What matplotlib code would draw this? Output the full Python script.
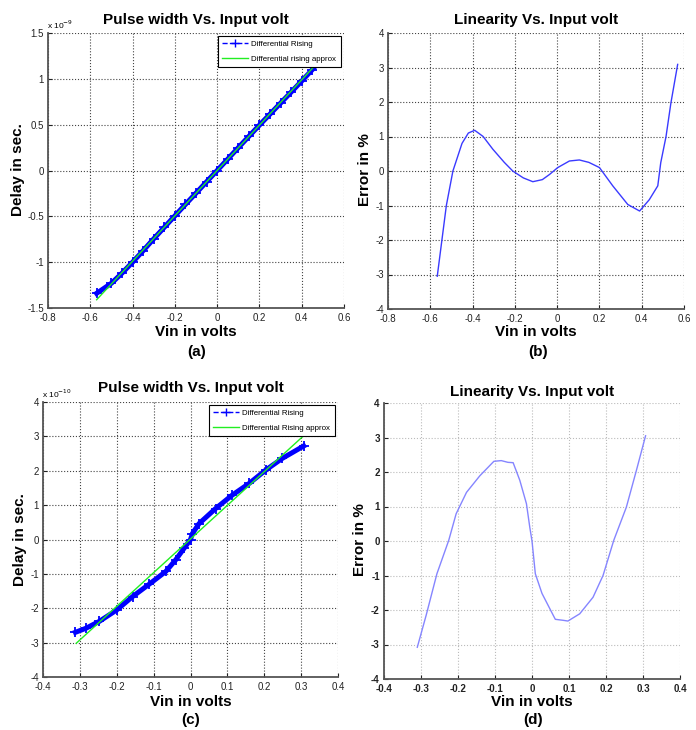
import numpy as np
import matplotlib
matplotlib.use('Agg')
import matplotlib.pyplot as plt
from matplotlib.lines import Line2D

plt.rcParams['font.family'] = ['Liberation Sans', 'DejaVu Sans']
plt.rcParams['axes.unicode_minus'] = False

# (a) pulse width vs input volt, delay in units of 1e-9 s
vin_a = [-0.57, -0.5, -0.45, -0.4, -0.35, -0.3, -0.25, -0.2, -0.15, -0.1, -0.05, 0.0,
         0.05, 0.1, 0.15, 0.2, 0.25, 0.3, 0.35, 0.4, 0.45, 0.5, 0.55]
delay_a = [-1.34, -1.23, -1.12, -1.00, -0.875, -0.745, -0.62, -0.495, -0.37, -0.247, -0.123, 0.0,
           0.124, 0.249, 0.372, 0.495, 0.615, 0.735, 0.855, 0.976, 1.10, 1.24, 1.38]
vin_a_fit = [-0.57, 0.57]
delay_a_fit = [-1.41, 1.41]

# (b) linearity error in %
vin_b = [-0.567, -0.524, -0.493, -0.45, -0.42, -0.39, -0.35, -0.304, -0.25, -0.21, -0.16, -0.115,
         -0.07, -0.036, 0.003, 0.058, 0.105, 0.15, 0.2, 0.263, 0.334, 0.39, 0.436, 0.476,
         0.49, 0.515, 0.538, 0.57]
err_b = [-3.05, -1.0, 0.0, 0.8, 1.1, 1.18, 1.0, 0.63, 0.25, 0.0, -0.2, -0.31,
         -0.25, -0.1, 0.1, 0.29, 0.32, 0.25, 0.1, -0.43, -0.97, -1.16, -0.83, -0.43,
         0.24, 1.0, 1.97, 3.09]

# (c) pulse width vs input volt, delay in units of 1e-10 s
vin_c = [-0.312, -0.283, -0.247, -0.2, -0.157, -0.112, -0.067, -0.04, -0.017, 0.0,
         0.005, 0.023, 0.068, 0.113, 0.159, 0.204, 0.249, 0.307]
delay_c = [-2.7, -2.58, -2.38, -2.05, -1.66, -1.3, -0.93, -0.59, -0.25, 0.0,
           0.17, 0.46, 0.9, 1.29, 1.63, 2.02, 2.36, 2.72]
vin_c_fit = [-0.31, 0.31]
delay_c_fit = [-3.02, 3.05]

# (d) linearity error in %
vin_d = [-0.31, -0.286, -0.257, -0.225, -0.205, -0.177, -0.141, -0.103, -0.083, -0.065, -0.051,
         -0.033, -0.015, -0.006, 0.0, 0.009, 0.027, 0.05, 0.063, 0.085, 0.097, 0.129, 0.165,
         0.192, 0.221, 0.255, 0.282, 0.307]
err_d = [-3.08, -2.15, -0.95, 0.02, 0.79, 1.41, 1.89, 2.31, 2.33, 2.28, 2.27,
         1.76, 1.08, 0.4, 0.0, -0.95, -1.52, -2.0, -2.27, -2.3, -2.32, -2.11, -1.63,
         -1.0, 0.02, 0.98, 2.04, 3.05]

W, H = 696, 730
fig = plt.figure(figsize=(W / 100, H / 100), dpi=100)


def box(l, t, r, b):
    return [l / W, 1 - b / H, (r - l) / W, (b - t) / H]


def fx(x):
    return x / W


def fy(y):
    return 1 - y / H


def style_axes(ax, xlim, ylim, xticks, yticks, gridcol='#444444', bold=False):
    ax.set_xlim(xlim)
    ax.set_ylim(ylim)
    ax.set_xticks(xticks)
    ax.set_yticks(yticks)
    ax.set_xticklabels(['%g' % t for t in xticks])
    ax.set_yticklabels(['%g' % t for t in yticks])
    ax.grid(True, linestyle=':', color=gridcol, linewidth=0.8)
    ax.spines['top'].set_visible(False)
    ax.spines['right'].set_visible(False)
    for s in ('left', 'bottom'):
        ax.spines[s].set_color('#555555')
        ax.spines[s].set_linewidth(1.3)
    ax.tick_params(direction='in', length=3, labelsize=7, colors='#222222')
    ax.tick_params(axis='x', pad=3.5)
    ax.tick_params(axis='y', pad=3)
    if bold:
        for lab in ax.get_xticklabels() + ax.get_yticklabels():
            lab.set_fontweight('bold')


def legend_for(ax, label2):
    h1 = Line2D([], [], color='blue', linestyle='--', marker='+', markersize=6, linewidth=1)
    h2 = Line2D([], [], color='#22ee22', linewidth=1)
    leg = ax.legend([h1, h2], ['Differential Rising', label2], loc='upper right',
                    fontsize=5.7, fancybox=False, framealpha=1, edgecolor='black',
                    borderaxespad=0.4, handlelength=3.3, borderpad=0.55, labelspacing=0.9,
                    handletextpad=0.4)
    leg.get_frame().set_linewidth(0.8)


tfont = dict(fontsize=11, fontweight='bold', ha='center', va='center')

# (a)
ax_a = fig.add_axes(box(48, 33, 344, 308))
ax_a.plot(vin_a_fit, delay_a_fit, color='#22ee22', linewidth=1, zorder=3)
ax_a.plot(vin_a, delay_a, color='blue', linewidth=3.6, marker='+', markersize=7,
          markeredgewidth=1.3, zorder=2)
style_axes(ax_a, (-0.8, 0.6), (-1.5, 1.5), [-0.8, -0.6, -0.4, -0.2, 0, 0.2, 0.4, 0.6],
           [-1.5, -1, -0.5, 0, 0.5, 1, 1.5])
legend_for(ax_a, 'Differential rising approx')
fig.text(fx(47), fy(25), r'x 10$^{-9}$', fontsize=6, ha='left', va='center')
fig.text(fx(196), fy(20), 'Pulse width Vs. Input volt', **tfont)
fig.text(fx(196), fy(332), 'Vin in volts', **tfont)
fig.text(fx(18), fy(170), 'Delay in sec.', rotation=90, **tfont)
fig.text(fx(197), fy(352), '(a)', **tfont)

# (b)
ax_b = fig.add_axes(box(388, 33, 684, 309))
ax_b.plot(vin_b, err_b, color='#3a3aff', linewidth=1)
style_axes(ax_b, (-0.8, 0.6), (-4, 4), [-0.8, -0.6, -0.4, -0.2, 0, 0.2, 0.4, 0.6],
           [-4, -3, -2, -1, 0, 1, 2, 3, 4])
fig.text(fx(536), fy(20), 'Linearity Vs. Input volt', **tfont)
fig.text(fx(536), fy(332), 'Vin in volts', **tfont)
fig.text(fx(365), fy(170), 'Error in %', rotation=90, **tfont)
fig.text(fx(538), fy(352), '(b)', **tfont)

# (c)
ax_c = fig.add_axes(box(43, 402, 338, 677))
ax_c.plot(vin_c_fit, delay_c_fit, color='#22ee22', linewidth=1, zorder=3)
ax_c.plot(vin_c, delay_c, color='blue', linewidth=3.6, marker='+', markersize=7,
          markeredgewidth=1.3, zorder=2)
style_axes(ax_c, (-0.4, 0.4), (-4, 4), [-0.4, -0.3, -0.2, -0.1, 0, 0.1, 0.2, 0.3, 0.4],
           [-4, -3, -2, -1, 0, 1, 2, 3, 4])
legend_for(ax_c, 'Differential Rising approx')
fig.text(fx(42), fy(394), r'x 10$^{-10}$', fontsize=6, ha='left', va='center')
fig.text(fx(191), fy(388), 'Pulse width Vs. Input volt', **tfont)
fig.text(fx(191), fy(702), 'Vin in volts', **tfont)
fig.text(fx(20), fy(540), 'Delay in sec.', rotation=90, **tfont)
fig.text(fx(191), fy(720), '(c)', **tfont)

# (d)
ax_d = fig.add_axes(box(384, 403, 680, 679))
ax_d.plot(vin_d, err_d, color='#8585ff', linewidth=1)
style_axes(ax_d, (-0.4, 0.4), (-4, 4), [-0.4, -0.3, -0.2, -0.1, 0, 0.1, 0.2, 0.3, 0.4],
           [-4, -3, -2, -1, 0, 1, 2, 3, 4], gridcol='#bbbbbb', bold=True)
fig.text(fx(532), fy(392), 'Linearity Vs. Input volt', **tfont)
fig.text(fx(532), fy(702), 'Vin in volts', **tfont)
fig.text(fx(360), fy(540), 'Error in %', rotation=90, **tfont)
fig.text(fx(533), fy(720), '(d)', **tfont)

fig.savefig('out.png', dpi=100)
